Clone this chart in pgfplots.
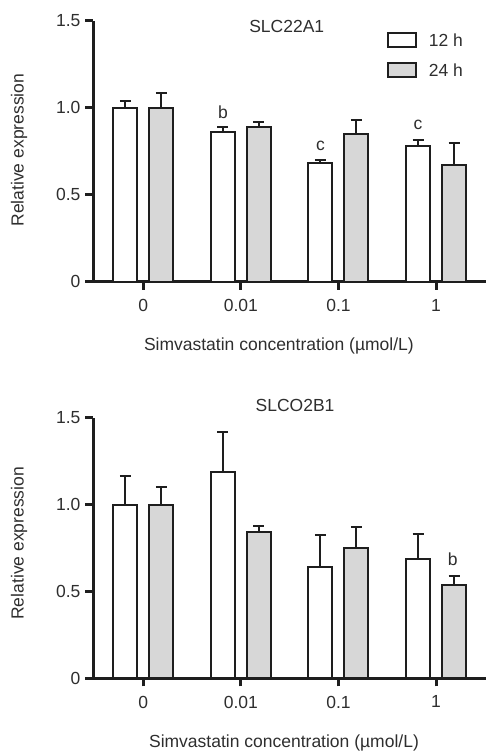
\documentclass[border=0pt]{standalone}
\usepackage{fontspec}
\setmainfont{Liberation Sans}
\usepackage{pgfplots}
\pgfplotsset{compat=1.18}
\definecolor{barline}{HTML}{1E1E1E}
\definecolor{txt}{HTML}{2E2E2E}
\definecolor{gfill}{HTML}{D7D7D7}
\pgfplotsset{
  myaxis/.style={
    scale only axis, width=393pt, clip=false,
    ybar=12pt, bar width=24pt,
    xmin=-0.5155, xmax=3.512, ymin=0, ymax=1.5,
    axis x line*=bottom, axis y line*=left,
    axis line style={line width=3pt, color=barline, -},
    xtick={0,1,2,3}, xticklabels={0,0.01,0.1,1},
    ytick={0,0.5,1,1.5}, yticklabels={0,0.5,1.0,1.5},
    tick align=outside, major tick length=8pt,
    tick style={line width=3pt, color=barline},
    minor tick num=0,
    font=\fontsize{17.5}{20}\selectfont, text=txt,
    /pgf/number format/assume math mode=true,
    ticklabel style={text=txt},
    xticklabel style={yshift=-6pt},
    yticklabel style={xshift=-1pt},
    legend cell align=left,
    error bars/y dir=plus, error bars/y explicit,
    error bars/error bar style={line width=2pt, color=barline},
    error bars/error mark options={rotate=90, mark size=5.5pt, line width=2pt, color=barline},
  },
  wbar/.style={fill=white, draw=barline, line width=2pt},
  gbar/.style={fill=gfill, draw=barline, line width=2pt},
}
\begin{document}
\begin{tikzpicture}[font=\fontsize{17.5}{20}\selectfont]
\useasboundingbox (0,0) rectangle (486pt,754pt);
% top panel
\begin{axis}[myaxis, height=261pt, at={(93pt,472.3pt)}, anchor=south west,
  xlabel={Simvastatin concentration (µmol/L)},
  ylabel={Relative expression},
  xlabel style={at={(axis description cs:0.473,-0.246)}, anchor=center, text=txt},
  ylabel style={at={(axis description cs:-0.188,0.504)}, anchor=center, text=txt},
  legend style={at={(axis description cs:0.747,0.9556)}, anchor=north west, draw=none, fill=none,
    inner sep=0pt, row sep=14pt, column sep=12pt, nodes={inner sep=0pt}},
  legend image code/.code={\draw[#1, line width=2pt] (0pt,-7pt) rectangle (28pt,7pt);},
]
\addplot[wbar] coordinates {(0,1.0) +- (0,0.04) (1,0.86) +- (0,0.029) (2,0.682) +- (0,0.019) (3,0.78) +- (0,0.034)};
\addlegendentry{12 h}
\addplot[gbar] coordinates {(0,1.0) +- (0,0.085) (1,0.889) +- (0,0.029) (2,0.851) +- (0,0.078) (3,0.671) +- (0,0.124)};
\addlegendentry{24 h}
\node[text=txt] at (axis cs:1.47,1.466) {SLC22A1};
\node[text=txt] at (axis cs:0.8155,0.974) {b};
\node[text=txt] at (axis cs:1.8155,0.782) {c};
\node[text=txt] at (axis cs:2.8155,0.90) {c};
\end{axis}
% bottom panel
\begin{axis}[myaxis, height=260.6pt, at={(93pt,75.7pt)}, anchor=south west,
  xlabel={Simvastatin concentration (µmol/L)},
  ylabel={Relative expression},
  xlabel style={at={(axis description cs:0.486,-0.248)}, anchor=center, text=txt},
  ylabel style={at={(axis description cs:-0.188,0.518)}, anchor=center, text=txt},
]
\addplot[wbar] coordinates {(0,1.0) +- (0,0.163) (1,1.189) +- (0,0.227) (2,0.639) +- (0,0.186) (3,0.689) +- (0,0.142)};
\addplot[gbar] coordinates {(0,1.0) +- (0,0.103) (1,0.84) +- (0,0.039) (2,0.748) +- (0,0.123) (3,0.539) +- (0,0.052)};
\node[text=txt] at (axis cs:1.555,1.573) {SLCO2B1};
\node[text=txt] at (axis cs:3.171,0.687) {b};
\end{axis}
\end{tikzpicture}
\end{document}
